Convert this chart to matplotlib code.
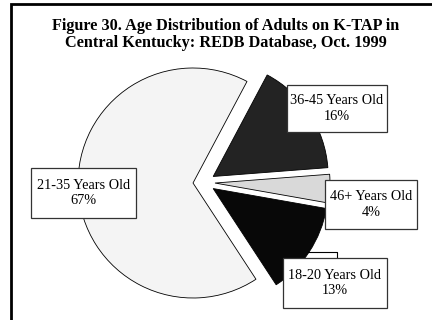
import matplotlib
matplotlib.use("Agg")
import matplotlib.pyplot as plt
from matplotlib.patches import Rectangle
from matplotlib.lines import Line2D

# Age groups in clockwise order starting from the top-right wedge
categories = ["36-45 Years Old", "46+ Years Old", "18-20 Years Old", "21-35 Years Old"]
shares = [16, 4, 13, 67]
colors = ["#232323", "#d9d9d9", "#080808", "#f4f4f4"]

title = ("Figure 30. Age Distribution of Adults on K-TAP in\n"
         "Central Kentucky: REDB Database, Oct. 1999")

W, H = 432, 320
fig = plt.figure(figsize=(W / 100, H / 100), dpi=100)
ax = fig.add_axes([0, 0, 1, 1])


def py(y):
    """Convert a top-down pixel row into the axes' upward y coordinate."""
    return H - y


serif = "Liberation Serif"

# Exploded pie (explode distances are in data units here)
ax.pie(shares, colors=colors, startangle=62, counterclock=False,
       explode=[11] * len(shares), center=(204, py(182.5)), radius=115,
       wedgeprops=dict(edgecolor="black", linewidth=0.6))

ax.set_xlim(0, W)
ax.set_ylim(0, H)
ax.set_aspect("equal")
ax.axis("off")

# Outer frame (only top and left edges fall inside the canvas)
ax.add_line(Line2D([11, 11, W + 5], [py(H + 5), py(4), py(4)],
                   color="black", linewidth=2, solid_joinstyle="miter"))

# Title
ax.text(226, py(34.5), title, ha="center", va="center", fontsize=11.7,
        fontweight="bold", family=serif, linespacing=1.05)

# Leader line from the 18-20 wedge to its label
ax.add_line(Line2D([308, 337, 337], [py(252), py(252), py(258)],
                   color="black", linewidth=0.8))

# Label boxes: (left, top, width, height)
boxes = [(287, 85, 100, 47), (325, 180, 92, 49), (283, 258, 104, 50), (31, 168, 105, 50)]
for name, share, (bx, by, bw, bh) in zip(categories, shares, boxes):
    ax.add_patch(Rectangle((bx, py(by + bh)), bw, bh, facecolor="white",
                           edgecolor="#333333", linewidth=0.9, zorder=3))
    ax.text(bx + bw / 2, py(by + bh / 2), f"{name}\n{share}%", ha="center",
            va="center", fontsize=10.3, family=serif, linespacing=1.2, zorder=4)

fig.savefig("out.png", dpi=100)
